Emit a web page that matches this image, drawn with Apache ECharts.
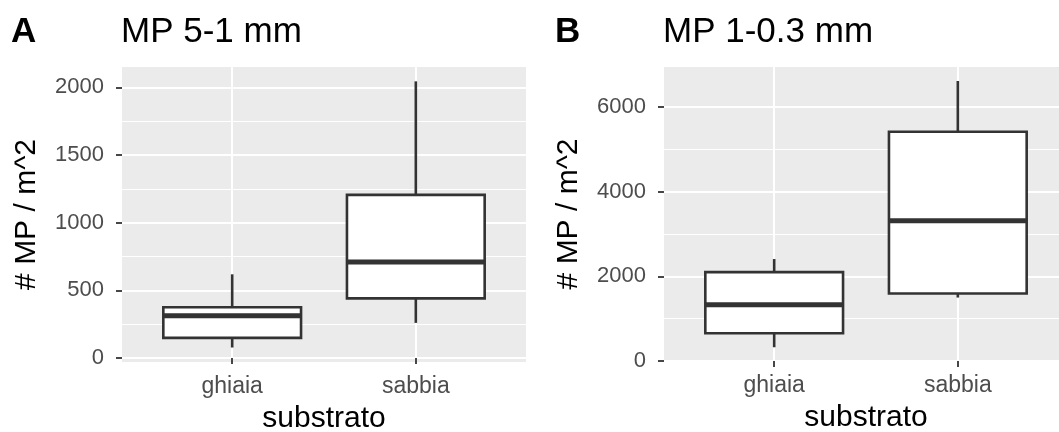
<!DOCTYPE html>
<html>
<head>
<meta charset="utf-8">
<script src="https://cdn.jsdelivr.net/npm/echarts@6/dist/echarts.min.js"></script>
<style>html,body{margin:0;padding:0;background:#fff;}#c{width:1059px;height:432px;}</style>
</head>
<body>
<div id="c"></div>
<script>
// ---- data ----
const categories = ['ghiaia', 'sabbia'];
// [lower whisker, Q1, median, Q3, upper whisker]
const boxA = [[77, 148, 311, 375, 618], [259, 440, 709, 1205, 2044]];
const boxB = [[325, 656, 1327, 2102, 2410], [1500, 1595, 3318, 5419, 6619]];
const ticksA = [0, 500, 1000, 1500, 2000];
const minorA = [250, 750, 1250, 1750];
const ticksB = [0, 2000, 4000, 6000];
const minorB = [1000, 3000, 5000];
const rangeA = [-30, 2150];
const rangeB = [0, 6950];
const tagA = 'A', titleA = 'MP 5-1 mm';
const tagB = 'B', titleB = 'MP 1-0.3 mm';
const yTitle = '# MP / m^2';
const xTitle = 'substrato';

const FONT = '"Liberation Sans", Arial, sans-serif';
const catPos = categories.map((c, i) => i + 1);

function renderBox(params, api) {
  const x = api.value(0);
  const lo = api.value(1), q1 = api.value(2), med = api.value(3), q3 = api.value(4), hi = api.value(5);
  const pLo = api.coord([x, lo]), pQ1 = api.coord([x, q1]), pMed = api.coord([x, med]);
  const pQ3 = api.coord([x, q3]), pHi = api.coord([x, hi]);
  const w = api.size([0.75, 0])[0];
  const cx = pMed[0];
  const stroke = '#333333';
  return {
    type: 'group',
    children: [
      {type: 'line', shape: {x1: cx, y1: pHi[1], x2: cx, y2: pQ3[1]}, style: {stroke, lineWidth: 2.6}},
      {type: 'line', shape: {x1: cx, y1: pQ1[1], x2: cx, y2: pLo[1]}, style: {stroke, lineWidth: 2.6}},
      {type: 'rect', shape: {x: cx - w / 2, y: pQ3[1], width: w, height: pQ1[1] - pQ3[1]}, style: {fill: '#ffffff', stroke, lineWidth: 2.6}},
      {type: 'line', shape: {x1: cx - w / 2, y1: pMed[1], x2: cx + w / 2, y2: pMed[1]}, style: {stroke, lineWidth: 5}}
    ]
  };
}

function xAxisFor(gridIndex) {
  return {
    type: 'value', gridIndex, min: 0.4, max: 2.6,
    axisLine: {show: false},
    axisTick: {show: true, length: 6, lineStyle: {color: '#333333', width: 1.8}, customValues: catPos},
    axisLabel: {customValues: catPos, margin: 13, color: '#4D4D4D', fontSize: 23, fontFamily: FONT,
      formatter: v => categories[Math.round(v) - 1]},
    splitLine: {show: true, lineStyle: {color: '#ffffff', width: 2}},
    name: xTitle, nameLocation: 'middle', nameGap: 42,
    nameTextStyle: {color: '#000', fontSize: 30, fontFamily: FONT}
  };
}
function yAxisMajor(gridIndex, range, ticks) {
  return {
    type: 'value', gridIndex, min: range[0], max: range[1], position: 'left', offset: 0,
    axisLine: {show: false},
    axisTick: {show: true, length: 6, lineStyle: {color: '#333333', width: 1.8}, customValues: ticks},
    axisLabel: {customValues: ticks, margin: 18, color: '#4D4D4D', fontSize: 22, fontFamily: FONT,
      formatter: v => String(v)},
    splitLine: {show: true, lineStyle: {color: '#ffffff', width: 2}},
    name: yTitle, nameLocation: 'middle', nameGap: 80, nameRotate: 90,
    nameTextStyle: {color: '#000', fontSize: 30, fontFamily: FONT}
  };
}
function yAxisMinor(gridIndex, range, ticks) {
  return {
    type: 'value', gridIndex, min: range[0], max: range[1], position: 'left', offset: 0,
    axisLine: {show: false},
    axisTick: {show: false, customValues: ticks},
    axisLabel: {show: false, customValues: ticks},
    splitLine: {show: true, lineStyle: {color: '#ffffff', width: 1}}
  };
}
function titleItem(text, left, bold) {
  return {text, left, top: 15, padding: 0,
    textStyle: {color: '#000', fontSize: 35, fontWeight: bold ? 'bold' : 'normal', fontFamily: FONT}};
}

const chart = echarts.init(document.getElementById('c'), null, {renderer: 'canvas'});
chart.setOption({
  animation: false,
  backgroundColor: '#ffffff',
  title: [titleItem(tagA, 11, true), titleItem(titleA, 121, false), titleItem(tagB, 555, true), titleItem(titleB, 663, false)],
  grid: [
    {left: 122, top: 67, width: 404, height: 295, show: true, backgroundColor: '#EBEBEB', borderWidth: 0, outerBoundsMode: 'none'},
    {left: 664, top: 67, width: 404, height: 294, show: true, backgroundColor: '#EBEBEB', borderWidth: 0, outerBoundsMode: 'none'}
  ],
  xAxis: [xAxisFor(0), xAxisFor(1)],
  yAxis: [yAxisMinor(0, rangeA, minorA), yAxisMajor(0, rangeA, ticksA), yAxisMinor(1, rangeB, minorB), yAxisMajor(1, rangeB, ticksB)],
  series: [
    {type: 'custom', xAxisIndex: 0, yAxisIndex: 1, renderItem: renderBox,
      data: boxA.map((b, i) => [catPos[i]].concat(b))},
    {type: 'custom', xAxisIndex: 1, yAxisIndex: 3, renderItem: renderBox,
      data: boxB.map((b, i) => [catPos[i]].concat(b))}
  ]
});
</script>
</body>
</html>
